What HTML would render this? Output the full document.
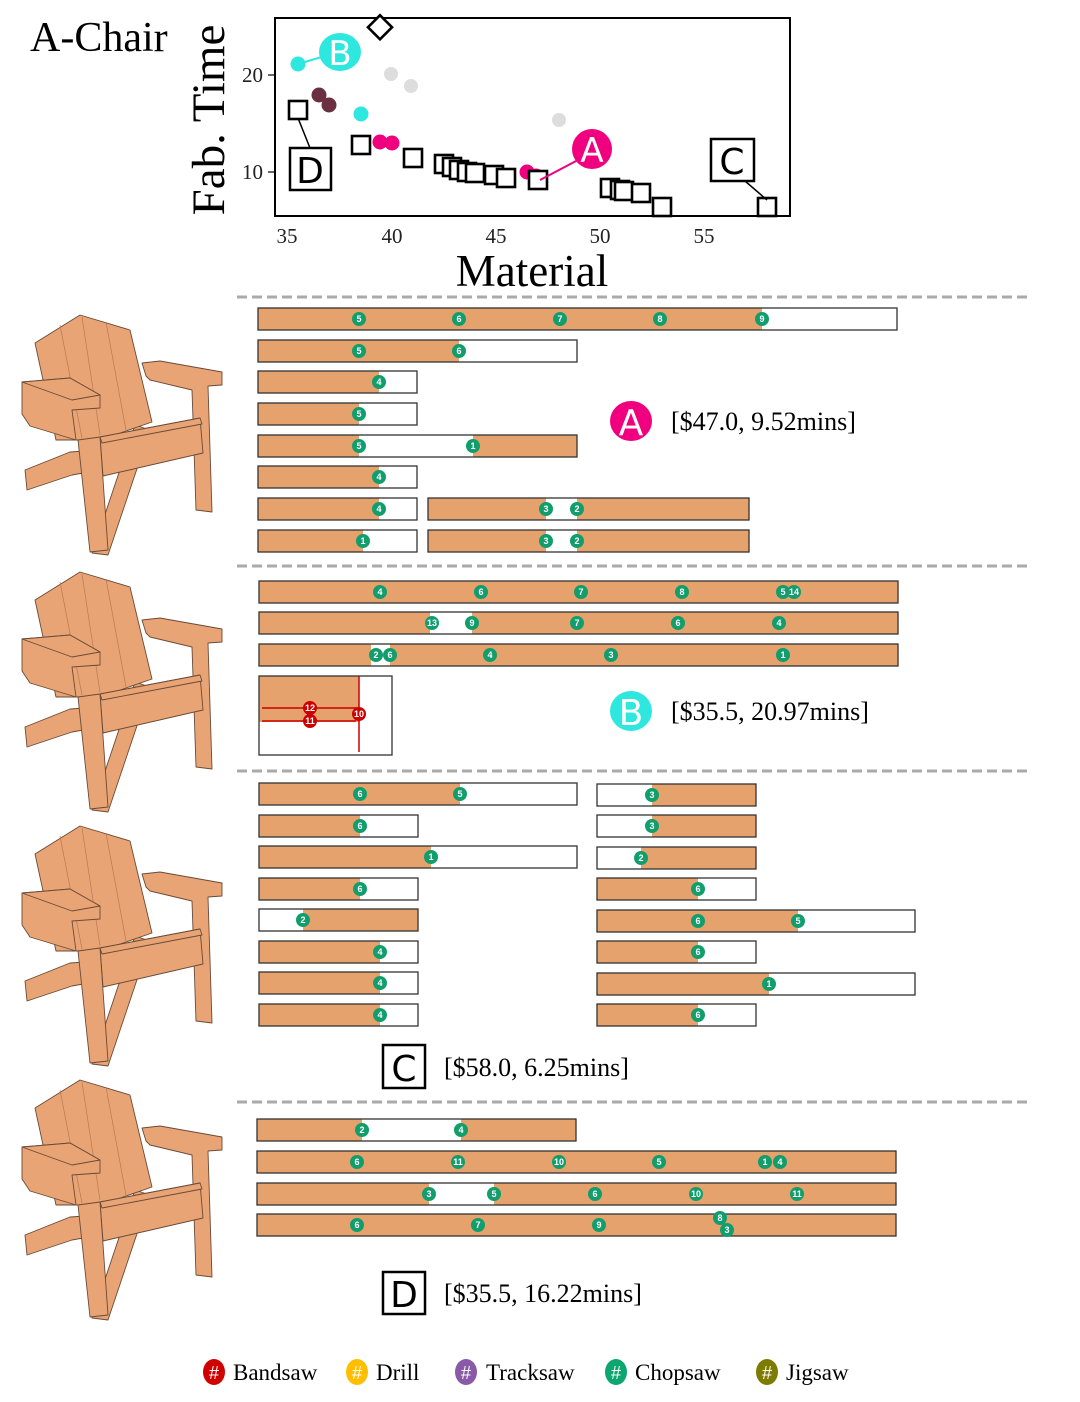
<!DOCTYPE html>
<html><head><meta charset="utf-8">
<style>
html,body{margin:0;padding:0;background:#fff;}
svg{display:block;}
.serif{font-family:"Liberation Serif",serif;}
.o{fill:#e5a26d;}
.w{fill:#fff;}
.ol{fill:none;stroke:#333;stroke-width:1.3;}
.m circle{fill:#129e6c;}
.m text{fill:#fff;font:bold 9px "Liberation Sans",sans-serif;text-anchor:middle;}
.r circle{fill:#cc0000;}
.r text{fill:#fff;font:bold 9px "Liberation Sans",sans-serif;text-anchor:middle;}
.dash{stroke:#aaa;stroke-width:3;stroke-dasharray:10,5;}
.ch polygon{fill:#e8a474;stroke:#6a4a38;stroke-width:0.9;stroke-linejoin:round;}
.ch line{stroke:#b97a52;stroke-width:0.7;}
.sq{fill:#fff;stroke:#000;stroke-width:2.6;}
.lab{font-family:"Liberation Serif",serif;font-size:26px;fill:#000;}
</style></head><body>
<svg width="1080" height="1402" viewBox="0 0 1080 1402" xmlns="http://www.w3.org/2000/svg">
<defs>
<g id="chair" class="ch">
  <polygon points="150,130 108,255 92,253 135,125"/>
  <polygon points="35,43 80,15 130,30 152,122 100,140 56,140"/>
  <line x1="60" y1="25" x2="82" y2="138"/><line x1="82" y1="17" x2="100" y2="135"/><line x1="106" y1="22" x2="126" y2="130"/>
  <polygon points="25,170 70,152 100,150 100,170 72,175 27,190"/>
  <polygon points="142,63 160,61 222,72 222,85 208,86 212,212 196,210 192,90 150,80 146,76"/>
  <polygon points="100,137 200,118 203,153 103,176"/>
  <polygon points="100,137 200,118 202,124 102,143"/>
  <polygon points="78,140 100,137 108,250 90,252"/>
  <polygon points="22,82 70,78 100,95 100,108 72,110 76,140 30,126 22,114"/>
  <polygon points="22,82 70,78 100,95 72,100"/>
</g>
</defs>

<!-- Plot -->
<text x="30" y="51" class="serif" font-size="42">A-Chair</text>
<rect x="275" y="18" width="515" height="198" fill="none" stroke="#000" stroke-width="2"/>
<text transform="translate(224,120) rotate(-90)" class="serif" font-size="47" text-anchor="middle">Fab. Time</text>
<text x="532" y="286" class="serif" font-size="45" text-anchor="middle">Material</text>
<g class="serif" font-size="21" fill="#222">
<text x="263" y="82" text-anchor="end">20</text>
<text x="263" y="179" text-anchor="end">10</text>
<text x="287" y="243" text-anchor="middle">35</text>
<text x="392" y="243" text-anchor="middle">40</text>
<text x="496" y="243" text-anchor="middle">45</text>
<text x="600" y="243" text-anchor="middle">50</text>
<text x="704" y="243" text-anchor="middle">55</text>
</g>
<g stroke="#000" stroke-width="1.2"><line x1="268" y1="75" x2="275" y2="75"/><line x1="268" y1="172" x2="275" y2="172"/></g>
<circle cx="391" cy="74" r="7" fill="#ddd"/><circle cx="411" cy="86" r="7" fill="#ddd"/><circle cx="559" cy="120" r="7" fill="#ddd"/>
<circle cx="319" cy="95" r="7.5" fill="#6b3040"/><circle cx="329" cy="105" r="7.5" fill="#6b3040"/>
<circle cx="298" cy="64" r="7.5" fill="#2ee8e0"/><circle cx="361" cy="114" r="7.5" fill="#2ee8e0"/>
<circle cx="380" cy="142" r="7.5" fill="#f0007f"/><circle cx="392" cy="143" r="7.5" fill="#f0007f"/>
<circle cx="527" cy="172" r="7.5" fill="#f0007f"/><circle cx="536" cy="176" r="7.5" fill="#f0007f"/>
<g>
<rect x="289" y="101" width="18" height="18" class="sq"/>
<rect x="352" y="136" width="18" height="18" class="sq"/>
<rect x="404" y="149" width="18" height="18" class="sq"/>
<rect x="435" y="155" width="18" height="18" class="sq"/>
<rect x="443" y="158" width="18" height="18" class="sq"/>
<rect x="450" y="161" width="18" height="18" class="sq"/>
<rect x="458" y="163" width="18" height="18" class="sq"/>
<rect x="466" y="164" width="18" height="18" class="sq"/>
<rect x="485" y="166" width="18" height="18" class="sq"/>
<rect x="497" y="169" width="18" height="18" class="sq"/>
<rect x="529" y="171" width="18" height="18" class="sq"/>
<rect x="601" y="179" width="18" height="18" class="sq"/>
<rect x="611" y="181" width="18" height="18" class="sq"/>
<rect x="615" y="182" width="18" height="18" class="sq"/>
<rect x="632" y="184" width="18" height="18" class="sq"/>
<rect x="653" y="198" width="18" height="18" class="sq"/>
<rect x="758" y="198" width="18" height="18" class="sq"/>
</g>
<rect x="371" y="19" width="17" height="17" class="sq" transform="rotate(45 380 28)"/>
<line x1="298" y1="64" x2="325" y2="56" stroke="#2ee8e0" stroke-width="2"/>
<ellipse cx="340" cy="52" rx="21" ry="19" fill="#2ee8e0"/>
<text x="340" y="65" font-family="DejaVu Sans,sans-serif" font-size="34" fill="#fff" text-anchor="middle">B</text>
<line x1="540" y1="180" x2="578" y2="160" stroke="#f0007f" stroke-width="2"/>
<ellipse cx="592" cy="149" rx="20" ry="20" fill="#f0007f"/>
<text x="592" y="162" font-family="DejaVu Sans,sans-serif" font-size="34" fill="#fff" text-anchor="middle">A</text>
<line x1="298" y1="118" x2="310" y2="148" stroke="#000" stroke-width="1.5"/>
<rect x="290" y="148" width="41" height="42" fill="#fff" stroke="#000" stroke-width="2.5"/>
<text x="310" y="183" font-family="DejaVu Sans,sans-serif" font-size="36" text-anchor="middle">D</text>
<line x1="745" y1="181" x2="767" y2="200" stroke="#000" stroke-width="1.5"/>
<rect x="711" y="139" width="43" height="42" fill="#fff" stroke="#000" stroke-width="2.5"/>
<text x="732" y="174" font-family="DejaVu Sans,sans-serif" font-size="36" text-anchor="middle">C</text>

<!-- dashed separators -->
<line x1="237" y1="297" x2="1032" y2="297" class="dash"/>
<line x1="237" y1="566" x2="1032" y2="566" class="dash"/>
<line x1="237" y1="771" x2="1032" y2="771" class="dash"/>
<line x1="237" y1="1102" x2="1032" y2="1102" class="dash"/>

<!-- chairs -->
<use href="#chair" transform="translate(0,300)"/>
<use href="#chair" transform="translate(0,557)"/>
<use href="#chair" transform="translate(0,811)"/>
<use href="#chair" transform="translate(0,1065)"/>

<!-- Section A -->
<g>
<rect x="258" y="308" width="639" height="22" class="w"/><rect x="258" y="308" width="504" height="22" class="o"/><rect x="258" y="308" width="639" height="22" class="ol"/>
<rect x="258" y="340" width="319" height="22" class="w"/><rect x="258" y="340" width="201" height="22" class="o"/><rect x="258" y="340" width="319" height="22" class="ol"/>
<rect x="258" y="371" width="159" height="22" class="w"/><rect x="258" y="371" width="121" height="22" class="o"/><rect x="258" y="371" width="159" height="22" class="ol"/>
<rect x="258" y="403" width="159" height="22" class="w"/><rect x="258" y="403" width="101" height="22" class="o"/><rect x="258" y="403" width="159" height="22" class="ol"/>
<rect x="258" y="435" width="319" height="22" class="w"/><rect x="258" y="435" width="101" height="22" class="o"/><rect x="473" y="435" width="104" height="22" class="o"/><rect x="258" y="435" width="319" height="22" class="ol"/>
<rect x="258" y="466" width="159" height="22" class="w"/><rect x="258" y="466" width="121" height="22" class="o"/><rect x="258" y="466" width="159" height="22" class="ol"/>
<rect x="258" y="498" width="159" height="22" class="w"/><rect x="258" y="498" width="121" height="22" class="o"/><rect x="258" y="498" width="159" height="22" class="ol"/>
<rect x="428" y="498" width="321" height="22" class="w"/><rect x="428" y="498" width="118" height="22" class="o"/><rect x="577" y="498" width="172" height="22" class="o"/><rect x="428" y="498" width="321" height="22" class="ol"/>
<rect x="258" y="530" width="159" height="22" class="w"/><rect x="258" y="530" width="105" height="22" class="o"/><rect x="258" y="530" width="159" height="22" class="ol"/>
<rect x="428" y="530" width="321" height="22" class="w"/><rect x="428" y="530" width="118" height="22" class="o"/><rect x="577" y="530" width="172" height="22" class="o"/><rect x="428" y="530" width="321" height="22" class="ol"/>
</g>
<g class="m">
<g transform="translate(359,319)"><circle r="7"/><text y="3">5</text></g>
<g transform="translate(459,319)"><circle r="7"/><text y="3">6</text></g>
<g transform="translate(560,319)"><circle r="7"/><text y="3">7</text></g>
<g transform="translate(660,319)"><circle r="7"/><text y="3">8</text></g>
<g transform="translate(762,319)"><circle r="7"/><text y="3">9</text></g>
<g transform="translate(359,351)"><circle r="7"/><text y="3">5</text></g>
<g transform="translate(459,351)"><circle r="7"/><text y="3">6</text></g>
<g transform="translate(379,382)"><circle r="7"/><text y="3">4</text></g>
<g transform="translate(359,414)"><circle r="7"/><text y="3">5</text></g>
<g transform="translate(359,446)"><circle r="7"/><text y="3">5</text></g>
<g transform="translate(473,446)"><circle r="7"/><text y="3">1</text></g>
<g transform="translate(379,477)"><circle r="7"/><text y="3">4</text></g>
<g transform="translate(379,509)"><circle r="7"/><text y="3">4</text></g>
<g transform="translate(546,509)"><circle r="7"/><text y="3">3</text></g>
<g transform="translate(577,509)"><circle r="7"/><text y="3">2</text></g>
<g transform="translate(363,541)"><circle r="7"/><text y="3">1</text></g>
<g transform="translate(546,541)"><circle r="7"/><text y="3">3</text></g>
<g transform="translate(577,541)"><circle r="7"/><text y="3">2</text></g>
</g>
<ellipse cx="631" cy="421" rx="21" ry="20" fill="#f0007f"/>
<text x="631" y="435" font-family="DejaVu Sans,sans-serif" font-size="36" fill="#fff" text-anchor="middle">A</text>
<text x="671" y="430" class="lab">[$47.0, 9.52mins]</text>

<!-- Section B -->
<g>
<rect x="259" y="581" width="639" height="22" class="o"/><rect x="259" y="581" width="639" height="22" class="ol"/>
<rect x="259" y="612" width="639" height="22" class="w"/><rect x="259" y="612" width="171" height="22" class="o"/><rect x="472" y="612" width="426" height="22" class="o"/><rect x="259" y="612" width="639" height="22" class="ol"/>
<rect x="259" y="644" width="639" height="22" class="w"/><rect x="259" y="644" width="112" height="22" class="o"/><rect x="390" y="644" width="508" height="22" class="o"/><rect x="259" y="644" width="639" height="22" class="ol"/>
<rect x="259" y="676" width="133" height="79" class="w"/><rect x="259" y="676" width="100" height="46" class="o"/><rect x="259" y="676" width="133" height="79" class="ol"/>
<g stroke="#cc0000" stroke-width="1.5"><line x1="262" y1="708" x2="359" y2="708"/><line x1="262" y1="721" x2="356" y2="721"/><line x1="359" y1="676" x2="359" y2="752"/></g>
</g>
<g class="r">
<g transform="translate(310,708)"><circle r="7"/><text y="3">12</text></g>
<g transform="translate(310,721)"><circle r="7"/><text y="3">11</text></g>
<g transform="translate(359,714)"><circle r="7"/><text y="3">10</text></g>
</g>
<g class="m">
<g transform="translate(380,592)"><circle r="7"/><text y="3">4</text></g>
<g transform="translate(481,592)"><circle r="7"/><text y="3">6</text></g>
<g transform="translate(581,592)"><circle r="7"/><text y="3">7</text></g>
<g transform="translate(682,592)"><circle r="7"/><text y="3">8</text></g>
<g transform="translate(783,592)"><circle r="7"/><text y="3">5</text></g>
<g transform="translate(794,592)"><circle r="7"/><text y="3">14</text></g>
<g transform="translate(432,623)"><circle r="7"/><text y="3">13</text></g>
<g transform="translate(472,623)"><circle r="7"/><text y="3">9</text></g>
<g transform="translate(577,623)"><circle r="7"/><text y="3">7</text></g>
<g transform="translate(678,623)"><circle r="7"/><text y="3">6</text></g>
<g transform="translate(779,623)"><circle r="7"/><text y="3">4</text></g>
<g transform="translate(376,655)"><circle r="7"/><text y="3">2</text></g>
<g transform="translate(390,655)"><circle r="7"/><text y="3">6</text></g>
<g transform="translate(490,655)"><circle r="7"/><text y="3">4</text></g>
<g transform="translate(611,655)"><circle r="7"/><text y="3">3</text></g>
<g transform="translate(783,655)"><circle r="7"/><text y="3">1</text></g>
</g>
<ellipse cx="631" cy="711" rx="21" ry="20" fill="#2ee8e0"/>
<text x="631" y="725" font-family="DejaVu Sans,sans-serif" font-size="36" fill="#fff" text-anchor="middle">B</text>
<text x="671" y="720" class="lab">[$35.5, 20.97mins]</text>

<!-- Section C -->
<g>
<rect x="259" y="783" width="318" height="22" class="w"/><rect x="259" y="783" width="201" height="22" class="o"/><rect x="259" y="783" width="318" height="22" class="ol"/>
<rect x="259" y="815" width="159" height="22" class="w"/><rect x="259" y="815" width="101" height="22" class="o"/><rect x="259" y="815" width="159" height="22" class="ol"/>
<rect x="259" y="846" width="318" height="22" class="w"/><rect x="259" y="846" width="172" height="22" class="o"/><rect x="259" y="846" width="318" height="22" class="ol"/>
<rect x="259" y="878" width="159" height="22" class="w"/><rect x="259" y="878" width="101" height="22" class="o"/><rect x="259" y="878" width="159" height="22" class="ol"/>
<rect x="259" y="909" width="159" height="22" class="w"/><rect x="303" y="909" width="115" height="22" class="o"/><rect x="259" y="909" width="159" height="22" class="ol"/>
<rect x="259" y="941" width="159" height="22" class="w"/><rect x="259" y="941" width="121" height="22" class="o"/><rect x="259" y="941" width="159" height="22" class="ol"/>
<rect x="259" y="972" width="159" height="22" class="w"/><rect x="259" y="972" width="121" height="22" class="o"/><rect x="259" y="972" width="159" height="22" class="ol"/>
<rect x="259" y="1004" width="159" height="22" class="w"/><rect x="259" y="1004" width="121" height="22" class="o"/><rect x="259" y="1004" width="159" height="22" class="ol"/>
<rect x="597" y="784" width="159" height="22" class="w"/><rect x="652" y="784" width="104" height="22" class="o"/><rect x="597" y="784" width="159" height="22" class="ol"/>
<rect x="597" y="815" width="159" height="22" class="w"/><rect x="652" y="815" width="104" height="22" class="o"/><rect x="597" y="815" width="159" height="22" class="ol"/>
<rect x="597" y="847" width="159" height="22" class="w"/><rect x="641" y="847" width="115" height="22" class="o"/><rect x="597" y="847" width="159" height="22" class="ol"/>
<rect x="597" y="878" width="159" height="22" class="w"/><rect x="597" y="878" width="101" height="22" class="o"/><rect x="597" y="878" width="159" height="22" class="ol"/>
<rect x="597" y="910" width="318" height="22" class="w"/><rect x="597" y="910" width="201" height="22" class="o"/><rect x="597" y="910" width="318" height="22" class="ol"/>
<rect x="597" y="941" width="159" height="22" class="w"/><rect x="597" y="941" width="101" height="22" class="o"/><rect x="597" y="941" width="159" height="22" class="ol"/>
<rect x="597" y="973" width="318" height="22" class="w"/><rect x="597" y="973" width="172" height="22" class="o"/><rect x="597" y="973" width="318" height="22" class="ol"/>
<rect x="597" y="1004" width="159" height="22" class="w"/><rect x="597" y="1004" width="101" height="22" class="o"/><rect x="597" y="1004" width="159" height="22" class="ol"/>
</g>
<g class="m">
<g transform="translate(360,794)"><circle r="7"/><text y="3">6</text></g>
<g transform="translate(460,794)"><circle r="7"/><text y="3">5</text></g>
<g transform="translate(360,826)"><circle r="7"/><text y="3">6</text></g>
<g transform="translate(431,857)"><circle r="7"/><text y="3">1</text></g>
<g transform="translate(360,889)"><circle r="7"/><text y="3">6</text></g>
<g transform="translate(303,920)"><circle r="7"/><text y="3">2</text></g>
<g transform="translate(380,952)"><circle r="7"/><text y="3">4</text></g>
<g transform="translate(380,983)"><circle r="7"/><text y="3">4</text></g>
<g transform="translate(380,1015)"><circle r="7"/><text y="3">4</text></g>
<g transform="translate(652,795)"><circle r="7"/><text y="3">3</text></g>
<g transform="translate(652,826)"><circle r="7"/><text y="3">3</text></g>
<g transform="translate(641,858)"><circle r="7"/><text y="3">2</text></g>
<g transform="translate(698,889)"><circle r="7"/><text y="3">6</text></g>
<g transform="translate(698,921)"><circle r="7"/><text y="3">6</text></g>
<g transform="translate(798,921)"><circle r="7"/><text y="3">5</text></g>
<g transform="translate(698,952)"><circle r="7"/><text y="3">6</text></g>
<g transform="translate(769,984)"><circle r="7"/><text y="3">1</text></g>
<g transform="translate(698,1015)"><circle r="7"/><text y="3">6</text></g>
</g>
<rect x="383" y="1045" width="42" height="43" fill="#fff" stroke="#000" stroke-width="2.5"/>
<text x="404" y="1081" font-family="DejaVu Sans,sans-serif" font-size="36" text-anchor="middle">C</text>
<text x="444" y="1076" class="lab">[$58.0, 6.25mins]</text>

<!-- Section D -->
<g>
<rect x="257" y="1119" width="319" height="22" class="w"/><rect x="257" y="1119" width="105" height="22" class="o"/><rect x="461" y="1119" width="115" height="22" class="o"/><rect x="257" y="1119" width="319" height="22" class="ol"/>
<rect x="257" y="1151" width="639" height="22" class="o"/><rect x="257" y="1151" width="639" height="22" class="ol"/>
<rect x="257" y="1183" width="639" height="22" class="w"/><rect x="257" y="1183" width="172" height="22" class="o"/><rect x="494" y="1183" width="402" height="22" class="o"/><rect x="257" y="1183" width="639" height="22" class="ol"/>
<rect x="257" y="1214" width="639" height="22" class="o"/><rect x="257" y="1214" width="639" height="22" class="ol"/>
</g>
<g class="m">
<g transform="translate(362,1130)"><circle r="7"/><text y="3">2</text></g>
<g transform="translate(461,1130)"><circle r="7"/><text y="3">4</text></g>
<g transform="translate(357,1162)"><circle r="7"/><text y="3">6</text></g>
<g transform="translate(458,1162)"><circle r="7"/><text y="3">11</text></g>
<g transform="translate(559,1162)"><circle r="7"/><text y="3">10</text></g>
<g transform="translate(659,1162)"><circle r="7"/><text y="3">5</text></g>
<g transform="translate(765,1162)"><circle r="7"/><text y="3">1</text></g>
<g transform="translate(780,1162)"><circle r="7"/><text y="3">4</text></g>
<g transform="translate(429,1194)"><circle r="7"/><text y="3">3</text></g>
<g transform="translate(494,1194)"><circle r="7"/><text y="3">5</text></g>
<g transform="translate(595,1194)"><circle r="7"/><text y="3">6</text></g>
<g transform="translate(696,1194)"><circle r="7"/><text y="3">10</text></g>
<g transform="translate(797,1194)"><circle r="7"/><text y="3">11</text></g>
<g transform="translate(357,1225)"><circle r="7"/><text y="3">6</text></g>
<g transform="translate(478,1225)"><circle r="7"/><text y="3">7</text></g>
<g transform="translate(599,1225)"><circle r="7"/><text y="3">9</text></g>
<g transform="translate(720,1218)"><circle r="7"/><text y="3">8</text></g>
<g transform="translate(727,1230)"><circle r="7"/><text y="3">3</text></g>
</g>
<rect x="383" y="1272" width="42" height="42" fill="#fff" stroke="#000" stroke-width="2.5"/>
<text x="404" y="1307" font-family="DejaVu Sans,sans-serif" font-size="36" text-anchor="middle">D</text>
<text x="444" y="1302" class="lab">[$35.5, 16.22mins]</text>

<!-- Legend -->
<g font-family="Liberation Serif,serif" font-size="23">
<ellipse cx="214" cy="1372" rx="11" ry="13" fill="#d00000"/><text x="214" y="1379" fill="#fff" font-size="18" text-anchor="middle" font-family="Liberation Sans,sans-serif">#</text><text x="233" y="1380">Bandsaw</text>
<ellipse cx="357" cy="1372" rx="11" ry="13" fill="#ffbf00"/><text x="357" y="1379" fill="#fff" font-size="18" text-anchor="middle" font-family="Liberation Sans,sans-serif">#</text><text x="376" y="1380">Drill</text>
<ellipse cx="466" cy="1372" rx="11" ry="13" fill="#8a5aa8"/><text x="466" y="1379" fill="#fff" font-size="18" text-anchor="middle" font-family="Liberation Sans,sans-serif">#</text><text x="486" y="1380">Tracksaw</text>
<ellipse cx="616" cy="1372" rx="11" ry="13" fill="#0da570"/><text x="616" y="1379" fill="#fff" font-size="18" text-anchor="middle" font-family="Liberation Sans,sans-serif">#</text><text x="635" y="1380">Chopsaw</text>
<ellipse cx="767" cy="1372" rx="11" ry="13" fill="#7e7c00"/><text x="767" y="1379" fill="#fff" font-size="18" text-anchor="middle" font-family="Liberation Sans,sans-serif">#</text><text x="786" y="1380">Jigsaw</text>
</g>
</svg>
</body></html>
